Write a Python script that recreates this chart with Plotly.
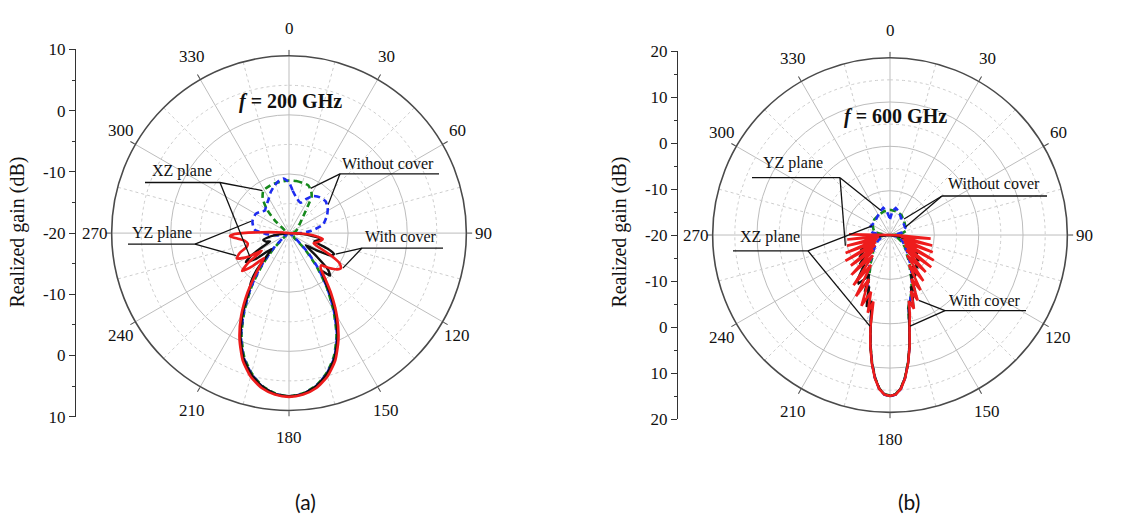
import numpy as np
import plotly.graph_objects as go

W, H = 1131, 526
SERIF = "Liberation Serif, Times New Roman, serif"

# ---------------------------------------------------------------- data
ANGLE_TICKS = list(range(0, 360, 30))

# (a) f = 200 GHz -- realized gain (dB) versus angle (deg)
A_XZ_OPEN_THETA = [0, 8, 15, 22, 28, 32, 35, 42, 55, 72, 90, 110, 125, 130, 135, 140,
                   145, 150, 155, 160, 165, 170, 175, 180, 185, 190, 195, 200, 205, 210,
                   215, 220, 225, 230, 240, 260, 280, 295, 306, 312, 317, 323, 329, 340,
                   350, 360]
A_XZ_OPEN_GAIN = [-11.1, -11.1, -11.2, -11.3, -12.0, -12.8, -14.5, -16.6, -18.0, -18.7,
                  -19.3, -19.5, -19.0, -19.0, -16.5, -13.0, -9.0, -5.0, -1.0, 2.2, 4.5,
                  6.2, 7.2, 7.6, 7.2, 6.2, 4.5, 2.2, -1.0, -5.0, -9.0, -13.0, -16.5, -19.0,
                  -19.5, -19.5, -19.3, -19.3, -18.9, -16.7, -14.5, -12.6, -11.6, -11.3,
                  -11.2, -11.1]

A_YZ_OPEN_THETA = [0, 5, 13, 21, 27, 33, 41, 49, 57, 65, 76, 84, 90, 96, 110, 125, 130,
                   135, 140, 145, 150, 155, 160, 165, 170, 175, 180, 185, 190, 195, 200,
                   205, 210, 215, 220, 225, 230, 240, 252, 259, 268, 276, 288, 300, 307,
                   313, 320, 328, 336, 343, 349, 354, 360]
A_YZ_OPEN_GAIN = [-11.4, -12.8, -14.0, -14.5, -13.5, -12.5, -12.0, -11.8, -12.2, -12.9,
                  -14.1, -16.2, -18.0, -19.5, -19.8, -19.5, -18.5, -16.0, -12.5, -8.8,
                  -4.8, -0.8, 2.4, 4.6, 6.3, 7.3, 7.6, 7.3, 6.3, 4.6, 2.4, -0.8, -4.8,
                  -8.8, -12.5, -16.0, -18.5, -19.5, -19.3, -18.0, -16.0, -14.1, -13.5,
                  -13.5, -14.0, -14.4, -14.0, -13.4, -12.4, -11.6, -11.0, -10.7, -11.4]

A_XZ_COVER_THETA = [0, 60, 88, 92, 96, 100, 104, 108, 112, 115, 118, 122, 126, 130, 133,
                    136, 139, 142, 146, 150, 155, 160, 165, 170, 175, 180, 185, 190, 195,
                    200, 205, 210, 215, 218, 221, 224, 228, 232, 236, 239, 242, 246, 250,
                    255, 259, 263, 268, 300, 360]
A_XZ_COVER_GAIN = [-20, -20, -20, -19, -16.5, -14.6, -15.0, -15.5, -13.0, -11.6, -12.0,
                   -14.5, -16.5, -14.0, -11.0, -10.0, -11.5, -10.5, -7.5, -4.3, -0.6, 2.5,
                   4.7, 6.3, 7.3, 7.6, 7.3, 6.3, 4.7, 2.5, -0.6, -4.3, -8.3, -9.6, -11.5,
                   -14.5, -16.0, -13.0, -11.2, -12.5, -14.5, -16.5, -15.8, -15.5, -16.5,
                   -18.5, -20, -20, -20]

A_YZ_COVER_THETA = [0, 60, 88, 92, 96, 100, 104, 108, 112, 115, 118, 121, 124, 127, 131,
                    135, 138, 141, 145, 150, 155, 160, 165, 170, 175, 180, 185, 190, 195,
                    200, 205, 210, 215, 219, 222, 225, 228, 231, 234, 237, 240, 244, 248,
                    252, 256, 260, 264, 267, 269, 272, 276, 280, 320, 360]
A_YZ_COVER_GAIN = [-20, -20, -20, -18, -15.5, -14.2, -14.5, -15.0, -15.5, -14.8, -12.0,
                   -10.0, -9.4, -9.8, -11.0, -12.3, -12.0, -10.5, -7.6, -3.8, -0.2, 2.9,
                   5.1, 6.6, 7.4, 7.7, 7.4, 6.6, 5.1, 2.9, -0.2, -3.8, -7.8, -11.0, -12.8,
                   -14.0, -11.5, -9.8, -11.5, -14.5, -12.0, -10.2, -11.0, -12.5, -12.8,
                   -12.4, -11.2, -10.0, -10.8, -15.5, -19.0, -20, -20, -20]

# (b) f = 600 GHz
B_XZ_OPEN_THETA = [0, 15, 30, 45, 60, 75, 85, 92, 100, 110, 120, 130, 140, 146, 150, 154,
                   158, 162, 166, 168, 170, 172, 174, 176, 178, 180, 182, 184, 186, 188,
                   190, 192, 194, 198, 202, 206, 210, 214, 220, 230, 240, 250, 260, 270,
                   280, 290, 300, 315, 330, 345, 360]
B_XZ_OPEN_GAIN = [-14.3, -14.5, -14.8, -15.5, -16.0, -16.2, -17.5, -19.5, -19.5, -18.0,
                  -17.0, -15.5, -14.0, -12.0, -11.0, -9.0, -7.0, -5.0, -3.0, 1.0, 5.3,
                  9.1, 12.3, 14.7, 15.9, 16.2, 15.9, 14.7, 12.3, 9.1, 5.3, 1.0, -3.0,
                  -5.0, -7.0, -9.0, -11.0, -12.0, -14.0, -15.0, -15.5, -16.0, -17.0,
                  -19.0, -16.5, -16.0, -15.5, -15.0, -14.8, -14.5, -14.3]

B_YZ_OPEN_THETA = [0, 6, 12, 20, 35, 50, 65, 78, 88, 95, 105, 115, 125, 135, 145, 152,
                   158, 163, 166, 168, 170, 172, 174, 176, 178, 180, 182, 184, 186, 188,
                   190, 192, 194, 197, 202, 208, 215, 225, 235, 245, 255, 265, 272, 278,
                   285, 295, 310, 325, 338, 346, 352, 360]
B_YZ_OPEN_GAIN = [-16.4, -14.5, -13.8, -14.3, -15.5, -16.0, -16.2, -17.3, -19.0, -19.5,
                  -18.0, -17.0, -16.0, -14.5, -12.0, -9.5, -7.0, -4.5, -2.5, 1.1, 5.4,
                  9.2, 12.4, 14.8, 16.0, 16.4, 16.0, 14.8, 12.4, 9.2, 5.4, 1.1, -2.5,
                  -4.5, -7.0, -9.5, -12.0, -14.5, -16.0, -17.0, -18.0, -19.0, -18.0,
                  -16.0, -15.5, -15.2, -15.5, -15.0, -14.2, -13.7, -14.5, -16.4]

B_XZ_COVER_THETA = [0, 60, 92, 98, 104, 110, 115, 120, 124, 128, 132, 136, 140, 144, 147,
                    150, 152, 154, 156, 158, 160, 162, 164, 166, 168, 170, 172, 174, 176,
                    178, 180, 182, 184, 186, 188, 190, 192, 194, 196, 198, 200, 202, 204,
                    206, 208, 210, 213, 216, 219, 222, 226, 230, 234, 238, 242, 246, 250,
                    255, 260, 265, 270, 300, 360]
B_XZ_COVER_GAIN = [-20, -20, -20, -18.0, -16.5, -15.5, -14.5, -14.0, -12.5, -13.0, -11.5,
                   -12.0, -10.5, -11.0, -9.4, -9.0, -10.0, -8.5, -6.0, -7.5, -5.0, -3.0,
                   -4.5, -2.5, 1.0, 5.4, 9.2, 12.4, 14.7, 16.0, 16.3, 16.0, 14.7, 12.4,
                   9.2, 5.4, 1.0, -2.5, -4.5, -3.0, -5.0, -7.5, -6.0, -8.5, -10.0, -8.5,
                   -7.0, -7.5, -10.0, -11.5, -10.5, -12.5, -11.5, -13.0, -12.5, -14.0,
                   -14.5, -15.5, -16.5, -18.0, -20, -20, -20]

B_YZ_COVER_THETA = [0, 60, 90, 92, 95, 99.5, 104, 108, 112, 116, 120, 124, 128, 132, 136,
                    140, 144, 147.5, 151, 154, 157, 159.5, 162, 164, 166, 168, 170, 172,
                    174, 176, 178, 180, 182, 184, 186, 188, 190, 192, 194, 196, 198.5,
                    202, 205.5, 209, 212.5, 216, 220, 224, 228, 232, 236, 240, 244, 248,
                    252, 256, 260, 264, 267.5, 271, 275, 300, 360]
B_YZ_COVER_GAIN = [-20, -20, -20, -18, -10.8, -17.5, -10.2, -17, -9.6, -16.5, -8.6, -16,
                   -8.2, -15, -8.4, -14, -7.2, -12, -5.8, -9, -4.0, -6.5, -2.5, -4.5, -1.5,
                   1.2, 5.5, 9.3, 12.5, 14.8, 16.0, 16.3, 16.0, 14.8, 12.5, 9.3, 5.5, 1.2,
                   -4.5, -1.8, -6.5, -2.8, -9, -4.2, -12, -6, -14, -7.5, -15, -8.8, -16,
                   -8.4, -16.5, -9.2, -17, -10, -17.5, -10.3, -17.5, -10.8, -20, -20, -20]

# ---------------------------------------------------------------- geometry
PANELS = {
    "a": dict(cx=289, cy=232.5, R=184, rmin=-20, rmax=10, subplot="polar",
              rgrid=[-10, 0], rminor=[-15, -5, 5]),
    "b": dict(cx=890, cy=234.5, R=184, rmin=-20, rmax=20, subplot="polar2",
              rgrid=[-10, 0, 10], rminor=[-15, -5, 5, 15]),
}
# angle labels sit on an ellipse around each dial (horizontal, vertical radius)
LABEL_RX, LABEL_RY = 194, 212

GREEN, BLUE, BLACK, RED = "#16891c", "#1e2cf0", "#111111", "#ee1c1c"


def paper(x, y):
    return x / W, 1 - y / H


def polar_px(p, theta, gain):
    g = PANELS[p]
    d = g["R"] * (gain - g["rmin"]) / (g["rmax"] - g["rmin"])
    t = np.deg2rad(theta)
    return g["cx"] + d * np.sin(t), g["cy"] - d * np.cos(t)


def gain_at(thetas, gains, theta):
    return float(np.interp(theta, thetas, gains))


fig = go.Figure()

# minor dotted grid: circles and 15-degree spokes
circle_theta = np.linspace(0, 360, 361)
for p, g in PANELS.items():
    for rv in g["rminor"]:
        fig.add_trace(go.Scatterpolar(
            theta=circle_theta, r=np.full_like(circle_theta, rv), mode="lines",
            line=dict(color="#cdcdcd", width=1, dash="dot"), hoverinfo="skip",
            showlegend=False, subplot=g["subplot"]))
    for a in range(15, 360, 30):
        fig.add_trace(go.Scatterpolar(
            theta=[a, a], r=[g["rmin"], g["rmax"]], mode="lines",
            line=dict(color="#cdcdcd", width=1, dash="dot"), hoverinfo="skip",
            showlegend=False, subplot=g["subplot"]))

SERIES = {
    "a": [
        (A_XZ_OPEN_THETA, A_XZ_OPEN_GAIN, GREEN, "6px,4px", 2.6),
        (A_YZ_OPEN_THETA, A_YZ_OPEN_GAIN, BLUE, "6px,4px", 2.6),
        (A_XZ_COVER_THETA, A_XZ_COVER_GAIN, BLACK, "solid", 2.4),
        (A_YZ_COVER_THETA, A_YZ_COVER_GAIN, RED, "solid", 2.6),
    ],
    "b": [
        (B_XZ_OPEN_THETA, B_XZ_OPEN_GAIN, GREEN, "6px,4px", 2.6),
        (B_YZ_OPEN_THETA, B_YZ_OPEN_GAIN, BLUE, "6px,4px", 2.6),
        (B_XZ_COVER_THETA, B_XZ_COVER_GAIN, BLACK, "solid", 2.4),
        (B_YZ_COVER_THETA, B_YZ_COVER_GAIN, RED, "solid", 2.6),
    ],
}

for p, series in SERIES.items():
    for th, gn, col, dash, wd in series:
        shape = "spline" if p == "a" else "linear"
        fig.add_trace(go.Scatterpolar(
            theta=th, r=gn, mode="lines",
            line=dict(color=col, width=wd, dash=dash, shape=shape, smoothing=0.6),
            hoverinfo="skip", showlegend=False, subplot=PANELS[p]["subplot"]))

# invisible anchors so the separate gain axes are drawn
fig.add_trace(go.Scatter(x=[0], y=[0], mode="markers", marker=dict(opacity=0),
                         hoverinfo="skip", showlegend=False, xaxis="x", yaxis="y"))
fig.add_trace(go.Scatter(x=[0], y=[0], mode="markers", marker=dict(opacity=0),
                         hoverinfo="skip", showlegend=False, xaxis="x2", yaxis="y2"))


def polar_layout(p):
    g = PANELS[p]
    return dict(
        domain=dict(x=[(g["cx"] - g["R"]) / W, (g["cx"] + g["R"]) / W],
                    y=[1 - (g["cy"] + g["R"]) / H, 1 - (g["cy"] - g["R"]) / H]),
        bgcolor="white",
        angularaxis=dict(rotation=90, direction="clockwise", tickmode="array",
                         tickvals=ANGLE_TICKS, showticklabels=False,
                         showline=True, linecolor="#4a4a4a", linewidth=1.6,
                         showgrid=True, gridcolor="#bdbdbd", gridwidth=1,
                         ticks="outside", ticklen=5, tickcolor="#4a4a4a"),
        radialaxis=dict(range=[g["rmin"], g["rmax"]], tickmode="array",
                        tickvals=g["rgrid"], showticklabels=False, ticks="",
                        showline=False, showgrid=True, gridcolor="#bdbdbd",
                        gridwidth=1),
    )


def gain_axis(xpos, top, bottom, half):
    # the scale reads outward from the centre (-20 dB) towards both ends
    vals = list(range(-half, half + 1, 10))
    return dict(anchor="free", position=xpos / W, domain=[1 - bottom / H, 1 - top / H],
                range=[-half, half], tickmode="array", tickvals=vals,
                ticktext=[str(abs(v) - 20) for v in vals],
                ticks="outside", ticklen=6, tickwidth=1, tickcolor="#333",
                showline=True, linecolor="#333", linewidth=1,
                minor=dict(dtick=5, ticks="outside", ticklen=3, tickcolor="#333"),
                showgrid=False, zeroline=False,
                tickfont=dict(family=SERIF, size=17, color="#111"))


fig.update_layout(
    width=W, height=H, margin=dict(l=0, r=0, t=0, b=0),
    paper_bgcolor="white", plot_bgcolor="white", showlegend=False,
    font=dict(family=SERIF, color="#111"),
    polar=polar_layout("a"), polar2=polar_layout("b"),
    xaxis=dict(domain=[0, 0.001], visible=False),
    xaxis2=dict(domain=[0.5, 0.501], visible=False),
    yaxis=gain_axis(75, 42, 423, 30),
    yaxis2=gain_axis(677, 43.7, 425.7, 40),
)

annotations = []
shapes = []


def text_at(x, y, s, size, family=SERIF, angle=0):
    px, py = paper(x, y)
    annotations.append(dict(x=px, y=py, xref="paper", yref="paper", text=s,
                            showarrow=False, textangle=angle, xanchor="center",
                            yanchor="middle",
                            font=dict(family=family, size=size, color="#111")))


def seg(x0, y0, x1, y1):
    a, b = paper(x0, y0)
    c, d = paper(x1, y1)
    shapes.append(dict(type="line", xref="paper", yref="paper", x0=a, y0=b, x1=c,
                       y1=d, line=dict(color="#111", width=1.3)))


def callout(p, label, tx, ty, ux0, ux1, uy, hub, targets):
    text_at(tx, ty, label, 16)
    seg(ux0, uy, ux1, uy)
    hx = ux1 if hub == "right" else ux0
    for th, gn, ang in targets:
        x, y = polar_px(p, ang, gain_at(th, gn, ang))
        seg(hx, uy, x, y)


# angle labels around both dials
for p, g in PANELS.items():
    for a in ANGLE_TICKS:
        t = np.deg2rad(a)
        text_at(g["cx"] + LABEL_RX * np.sin(t), g["cy"] - LABEL_RY * np.cos(t),
                str(a), 17)

# axis titles, headings and captions
text_at(18, 232, "Realized gain (dB)", 20, angle=-90)
text_at(620, 232, "Realized gain (dB)", 20, angle=-90)
text_at(290, 96, "<b><i>f</i> = 200 GHz</b>", 20)
text_at(895, 112, "<b><i>f</i> = 600 GHz</b>", 20)
text_at(305, 511, "(a)", 21, family="Lato")
text_at(909, 511, "(b)", 21, family="Lato")

# call-outs, panel (a)
callout("a", "XZ plane", 182, 168, 145, 220, 180, "right",
        [(A_XZ_OPEN_THETA, A_XZ_OPEN_GAIN, 329), (A_XZ_COVER_THETA, A_XZ_COVER_GAIN, 239)])
callout("a", "YZ plane", 162, 232, 128, 195, 244, "right",
        [(A_YZ_OPEN_THETA, A_YZ_OPEN_GAIN, 288), (A_YZ_COVER_THETA, A_YZ_COVER_GAIN, 246)])
callout("a", "Without cover", 388, 160, 340, 439, 171, "left",
        [(A_XZ_OPEN_THETA, A_XZ_OPEN_GAIN, 25), (A_YZ_OPEN_THETA, A_YZ_OPEN_GAIN, 53)])
callout("a", "With cover", 401, 236, 362, 443, 248, "left",
        [(A_XZ_COVER_THETA, A_XZ_COVER_GAIN, 115), (A_YZ_COVER_THETA, A_YZ_COVER_GAIN, 124)])

# call-outs, panel (b)
callout("b", "YZ plane", 793, 160, 752, 840, 175, "right",
        [(B_YZ_OPEN_THETA, B_YZ_OPEN_GAIN, 340), (B_YZ_COVER_THETA, B_YZ_COVER_GAIN, 256)])
callout("b", "XZ plane", 770, 237, 733, 808, 251, "right",
        [(B_XZ_OPEN_THETA, B_XZ_OPEN_GAIN, 298), (B_XZ_COVER_THETA, B_XZ_COVER_GAIN, 192)])
callout("b", "Without cover", 994, 181, 942, 1047, 194, "left",
        [(B_XZ_OPEN_THETA, B_XZ_OPEN_GAIN, 40), (B_YZ_OPEN_THETA, B_YZ_OPEN_GAIN, 62)])
callout("b", "With cover", 985, 302, 945, 1026, 313, "left",
        [(B_YZ_COVER_THETA, B_YZ_COVER_GAIN, 157), (B_XZ_COVER_THETA, B_XZ_COVER_GAIN, 168)])

fig.update_layout(annotations=annotations, shapes=shapes)
fig.write_html("out.html")
